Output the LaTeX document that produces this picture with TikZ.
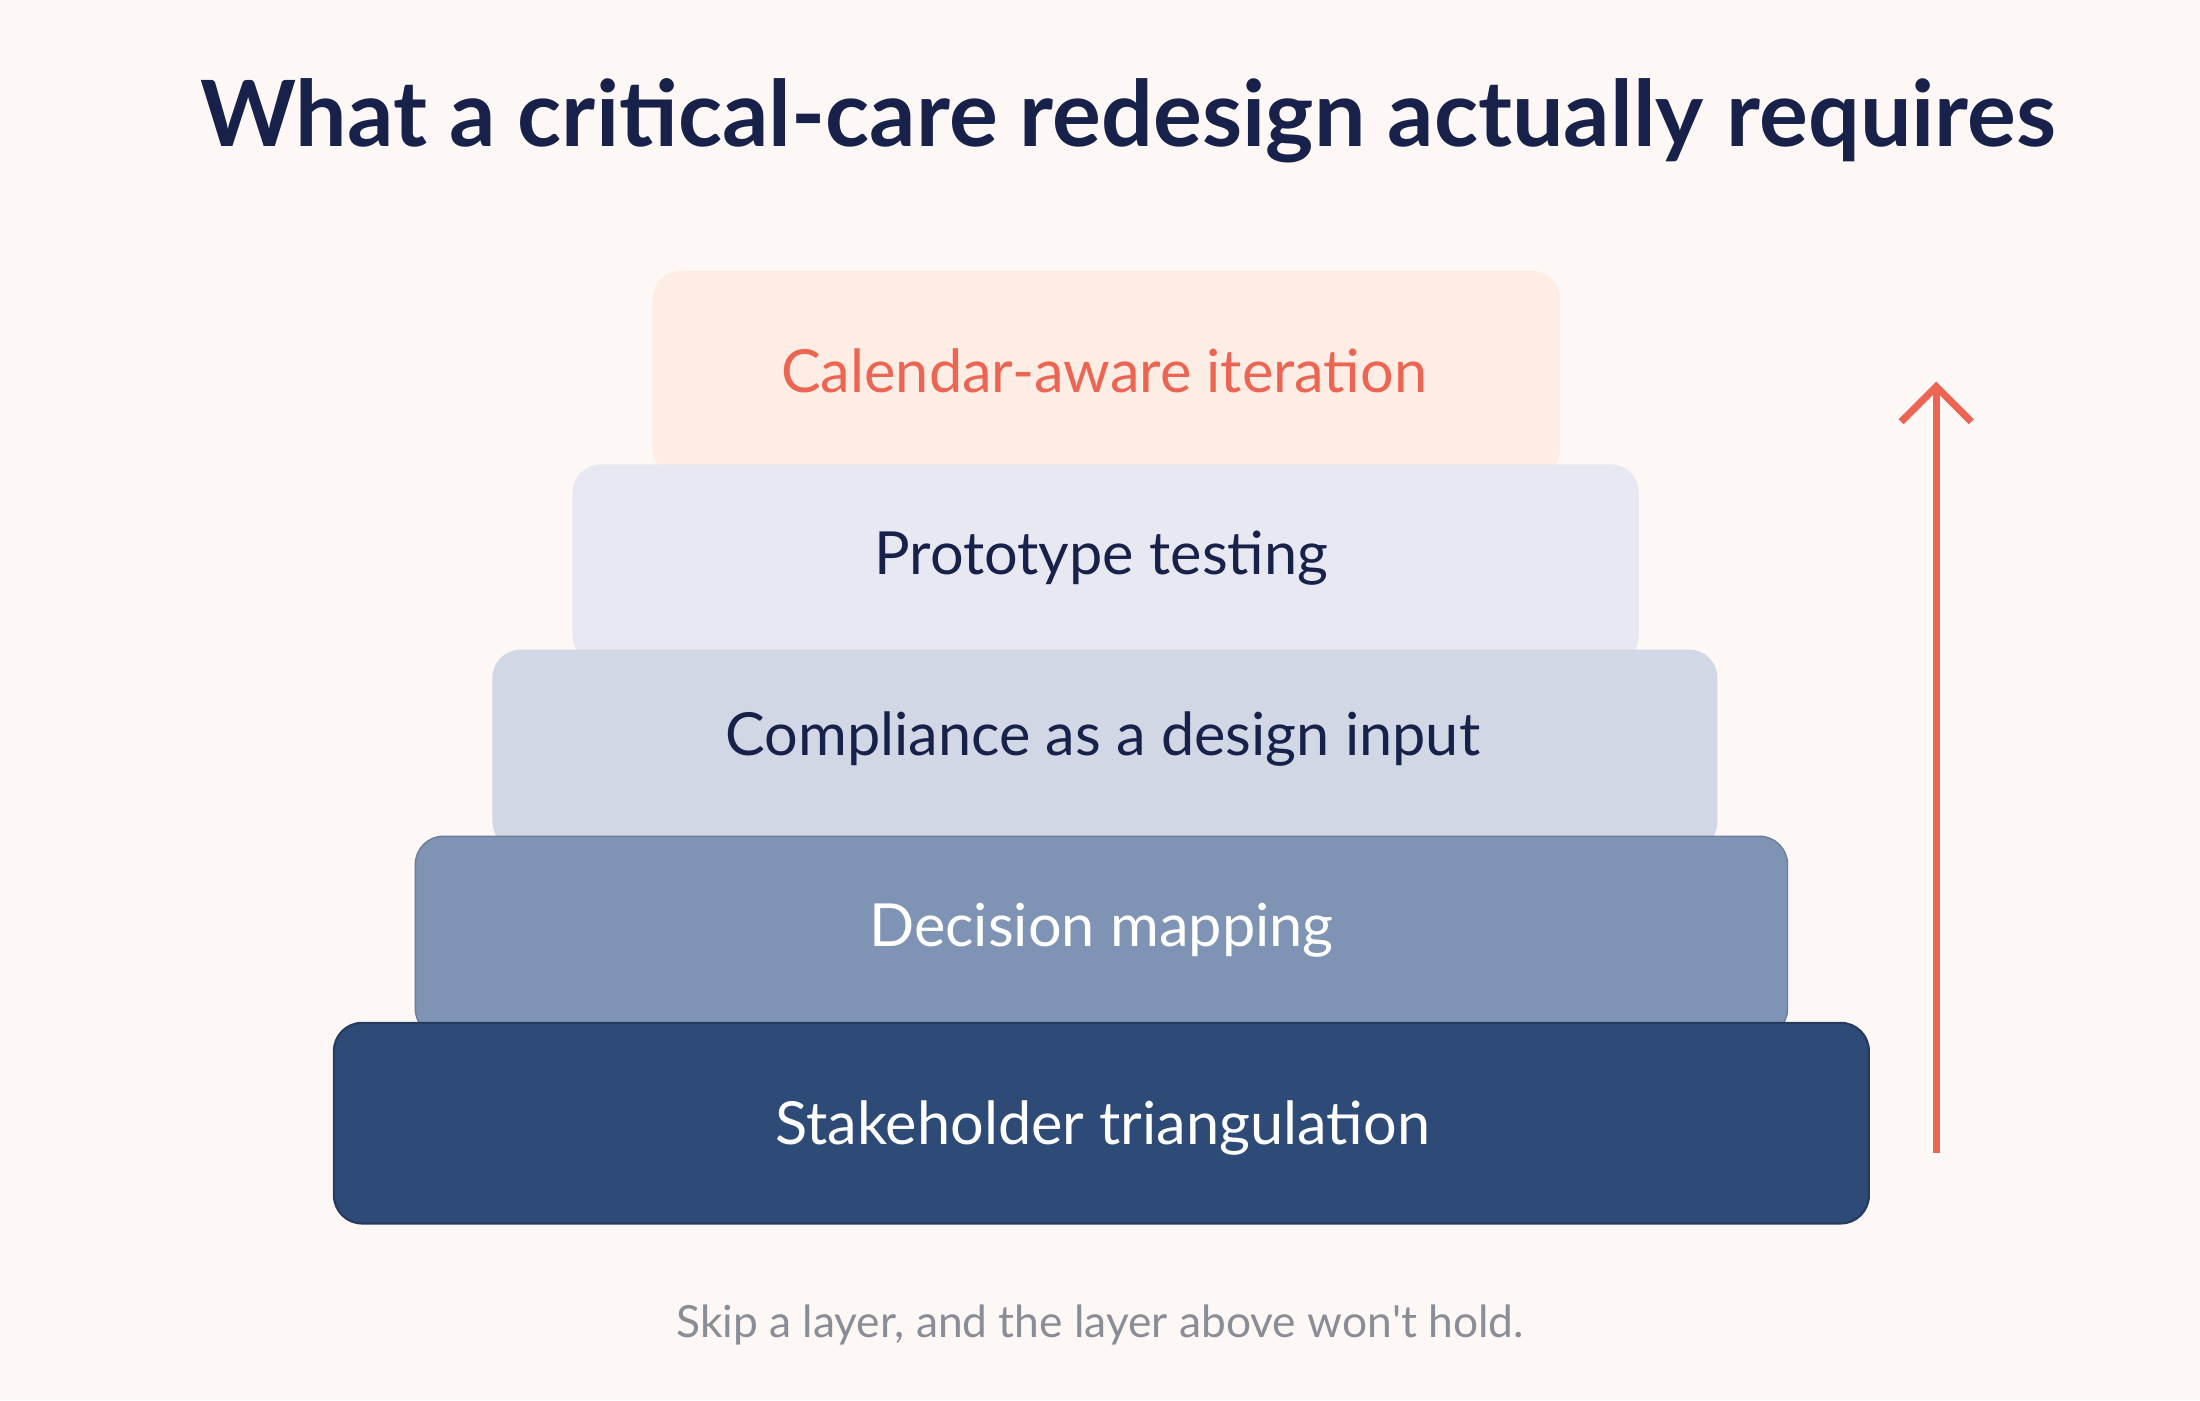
\documentclass[tikz,border=0pt]{standalone}
\usepackage{fontspec}
\setmainfont{Lato}
\usetikzlibrary{arrows.meta}
\definecolor{bg}{HTML}{FDF8F6}
\definecolor{navy}{HTML}{17214A}
\definecolor{coral}{HTML}{EC6552}
\definecolor{cA}{HTML}{FDEDE5}
\definecolor{cB}{HTML}{E7E8F1}
\definecolor{cC}{HTML}{D1D7E4}
\definecolor{cD}{HTML}{7F93B4}
\definecolor{cE}{HTML}{2E4A76}
\definecolor{grey}{HTML}{8A8C96}
\begin{document}
\begin{tikzpicture}[x=0.01403cm,y=-0.01403cm,
  layer/.style={rounded corners=8pt,draw=none},
  lbl/.style={font=\fontsize{16.9}{20}\selectfont}]
\fill[bg] (0,0) rectangle (1568,998);
\useasboundingbox (0,0) rectangle (1568,998);
\node[font=\fontsize{26}{31}\selectfont\bfseries,text=navy] (title) at (804,86) {What a critical-care redesign actually requires};
\fill[layer,cA] (465,193) rectangle (1112,340);
\fill[layer,cB] (408,331) rectangle (1168,473);
\fill[layer,cC] (351,463) rectangle (1224,606);
\fill[layer,cD,draw=cD!85!black,line width=0.4pt] (296,596) rectangle (1274,739);
\fill[layer,cE,draw=cE!80!black,line width=0.6pt] (238,729) rectangle (1332,872);
\node[lbl,text=coral] (l1) at (787,264) {Calendar-aware iteration};
\node[lbl,text=navy] (l2) at (785,398) {Prototype testing};
\node[lbl,text=navy] (l3) at (786,527) {Compliance as a design input};
\node[lbl,text=white] (l4) at (785,663) {Decision mapping};
\node[lbl,text=white] (l5) at (786,804) {Stakeholder triangulation};
\coordinate (a0) at (1380,822);
\coordinate (a1) at (1380,272);
\draw[coral,line width=2pt,-{Straight Barb[length=10pt,width=20pt,line width=2pt]}] (a0) -- (a1);
\node[font=\fontsize{12.6}{15}\selectfont,text=grey] (cap) at (784,944) {Skip a layer, and the layer above won\textquotesingle t hold.};
\end{tikzpicture}
\end{document}
